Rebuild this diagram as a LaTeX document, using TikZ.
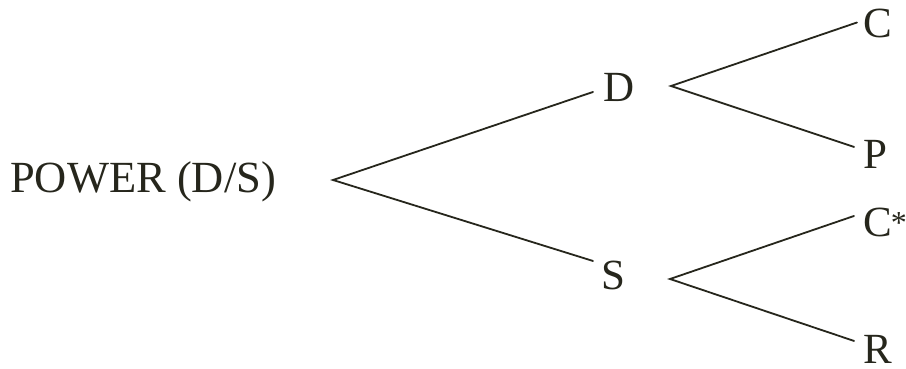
\documentclass[tikz,border=0pt]{standalone}
\usepackage{fontspec}
\setmainfont{Liberation Serif}
\definecolor{ink}{RGB}{38,38,28}
\begin{document}
\begin{tikzpicture}[x=1pt,y=-1pt,
  lbl/.style={anchor=base west,inner sep=0pt,text=ink,font=\fontsize{43}{50}\selectfont},
  branch/.style={draw=ink,line width=1.8pt,line cap=round,line join=miter}]
\useasboundingbox[fill=white] (0,0) rectangle (906,369);
\node[lbl,font=\fontsize{44.5}{50}\selectfont] (pw) at (10,192) {POWER (D/S)};
\node[lbl] (D) at (603,102) {D};
\node[lbl] (S) at (601,289) {S};
\node[lbl] (C) at (863,38) {C};
\node[lbl] (P) at (863,168) {P};
\node[lbl] (C2) at (863,236) {C\kern-1pt\raisebox{2pt}{\fontsize{32}{32}\selectfont *}};
\node[lbl] (R) at (863,363) {R};
\coordinate (a1) at (333,180);
\coordinate (a2) at (671,86);
\coordinate (a3) at (670,279);
\draw[branch] ([xshift=-10pt,yshift=-4pt]D.west) -- (a1) -- ([xshift=-8pt,yshift=14pt]S.west);
\draw[branch] ([xshift=-6pt,yshift=1.5pt]C.west) -- (a2) -- ([xshift=-9pt,yshift=7pt]P.west);
\draw[branch] ([xshift=-9pt,yshift=6pt]C2.west) -- (a3) -- ([xshift=-9pt,yshift=8pt]R.west);
\end{tikzpicture}
\end{document}
